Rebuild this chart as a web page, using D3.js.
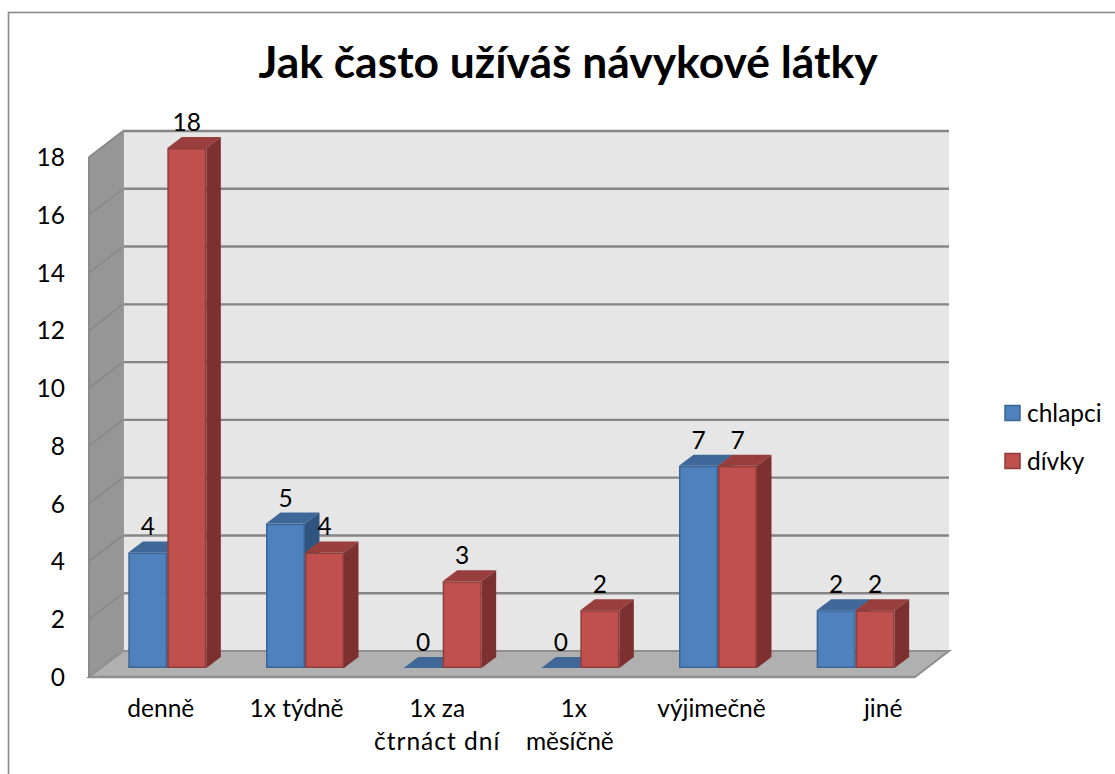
<!DOCTYPE html>
<html><head><meta charset="utf-8">
<style>html,body{margin:0;padding:0;background:#fff}svg{display:block}text{font-family:Lato,"Noto Sans",sans-serif;fill:#000}</style>
<script src="https://cdn.jsdelivr.net/npm/d3@7"></script></head><body>
<script>
const categories=[["denně"],["1x týdně"],["1x za","čtrnáct dní"],["1x","měsíčně"],["výjimečně"],["jiné"]];
const labelShift=[[3],[1],[4,4],[3,-1],[3],[37]];
const labelTrack=[[0],[0],[0,1],[0,0],[0],[0]];
const seriesNames=["chlapci","dívky"];
const chlapci=[4,5,0,0,7,2];
const divky=[18,4,3,2,7,2];
const ticks=[0,2,4,6,8,10,12,14,16,18];
const seriesValues=[chlapci,divky];
const front=["#4f81bd","#c0504d"],top_=["#3f6797","#983f3d"],side=["#2f5480","#7c3130"],edge=["#3a6596","#8f3c3a"];

const W=1115,H=774;
const svg=d3.select("body").append("svg").attr("width",W).attr("height",H);
const y=d3.scaleLinear().domain([0,18]).range([677,157]);
const x=d3.scaleBand().domain(d3.range(categories.length)).range([89,915]);
const dX=34,dY=-26,bdX=14.5,bdY=-11,barW=39,gap=x.bandwidth()-2*barW;
const baseShift=-9,groupShift=9.5;
const wall="#e6e6e6",wallSide="#969696",floor="#b0b0b0",grid="#868686";
const pts=a=>a.map(p=>p.join(",")).join(" ");

svg.append("rect").attr("x",8.5).attr("y",12.5).attr("width",W+20).attr("height",H+20).attr("fill","#fff").attr("stroke","#8b8b8b").attr("stroke-width",1.6);

// back wall, side wall, floor
svg.append("rect").attr("x",89+dX).attr("y",y(18)+dY).attr("width",915-89).attr("height",y(0)-y(18)).attr("fill",wall);
svg.append("polygon").attr("points",pts([[89,y(0)],[89,y(18)],[89+dX,y(18)+dY],[89+dX,y(0)+dY]])).attr("fill",wallSide).attr("stroke","#8a8a8a").attr("stroke-width",1.5);
svg.append("polygon").attr("points",pts([[89,y(0)],[915,y(0)],[915+dX,y(0)+dY],[89+dX,y(0)+dY]])).attr("fill",floor).attr("stroke","#8f8f8f").attr("stroke-width",2);

// gridlines
ticks.forEach(t=>{
  if(t>0) svg.append("line").attr("x1",89+dX).attr("x2",915+dX).attr("y1",y(t)+dY).attr("y2",y(t)+dY).attr("stroke",grid).attr("stroke-width",2.4);
  if(t>0) svg.append("line").attr("x1",89).attr("x2",89+dX).attr("y1",y(t)).attr("y2",y(t)+dY).attr("stroke","#868686").attr("stroke-width",1.5);
});
svg.append("line").attr("x1",89+dX).attr("x2",89+dX).attr("y1",y(18)+dY).attr("y2",y(0)+dY).attr("stroke","#9a9a9a").attr("stroke-width",1.5);
svg.append("line").attr("x1",88).attr("x2",915).attr("y1",y(0)).attr("y2",y(0)).attr("stroke","#8f8f8f").attr("stroke-width",2.4);
svg.append("line").attr("x1",89).attr("x2",89).attr("y1",y(18)).attr("y2",y(0)).attr("stroke","#8a8a8a").attr("stroke-width",2);

// axis labels
svg.selectAll(".tick").data(ticks).join("text").attr("x",65).attr("y",d=>y(d)+9).attr("text-anchor","end").attr("font-size",24.5).text(d=>d);

// bars
const base=d=>y(d)+baseShift;
const barX=(i,s)=>x(i)+gap/2+groupShift+s*barW;
categories.forEach((c,i)=>{
  seriesValues.forEach((vals,s)=>{
    const v=vals[i],x0=barX(i,s),x1=x0+barW,yt=base(v),yb=base(0);
    const g=svg.append("g");
    g.append("polygon").attr("points",pts([[x0,yt],[x0+bdX,yt+bdY],[x1+bdX,yt+bdY],[x1,yt]])).attr("fill",top_[s]);
    if(v>0){
      g.append("polygon").attr("points",pts([[x1,yt],[x1+bdX,yt+bdY],[x1+bdX,yb+bdY],[x1,yb]])).attr("fill",side[s]);
      g.append("rect").attr("x",x0+.75).attr("y",yt+.75).attr("width",barW-1.5).attr("height",yb-yt-1.5).attr("fill",front[s]).attr("stroke",edge[s]).attr("stroke-width",1.5);
    }
  });
});
// data labels
categories.forEach((c,i)=>{
  seriesValues.forEach((vals,s)=>{
    const v=vals[i];
    svg.append("text").attr("x",barX(i,s)+barW/2).attr("y",base(v)-17).attr("text-anchor","middle").attr("font-size",24.5).text(v);
  });
});
// category labels
categories.forEach((c,i)=>{
  c.forEach((ln,j)=>svg.append("text").attr("x",x(i)+x.bandwidth()/2+labelShift[i][j]).attr("y",717+j*33).attr("text-anchor","middle").attr("font-size",24.5).attr("letter-spacing",labelTrack[i][j]).text(ln));
});
// title
svg.append("text").attr("x",568).attr("y",78).attr("text-anchor","middle").attr("font-size",44.4).attr("font-weight",700).text("Jak často užíváš návykové látky");
// legend
seriesNames.forEach((n,s)=>{
  const ly=405.5+s*48;
  svg.append("rect").attr("x",1005).attr("y",ly).attr("width",15).attr("height",15).attr("fill",front[s]).attr("stroke",edge[s]).attr("stroke-width",1.5);
  svg.append("text").attr("x",1027).attr("y",ly+16).attr("font-size",24.5).text(n);
});
</script></body></html>
